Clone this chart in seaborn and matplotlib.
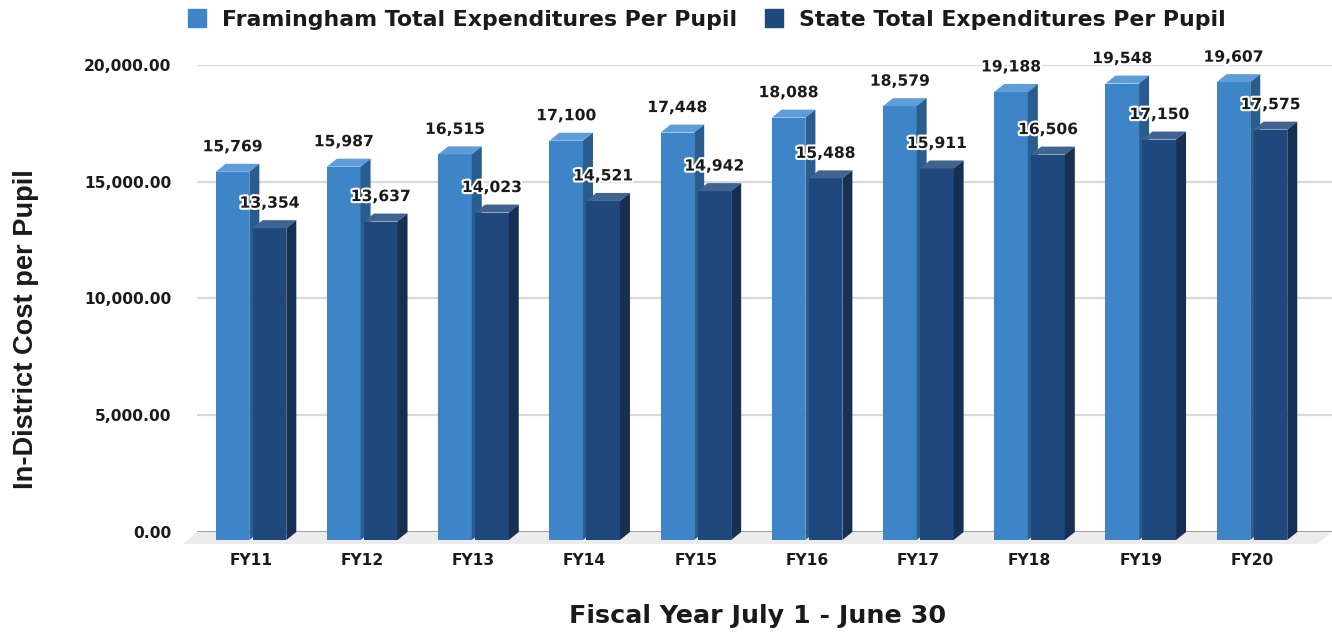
import matplotlib
matplotlib.use("Agg")
import numpy as np
import pandas as pd
import matplotlib.pyplot as plt
import matplotlib.transforms as mtransforms
import matplotlib.patheffects as pe
from matplotlib.patches import Polygon
from matplotlib.lines import Line2D
from matplotlib.ticker import FuncFormatter
import seaborn as sns

# ---- data -------------------------------------------------------------
years = ["FY11", "FY12", "FY13", "FY14", "FY15", "FY16", "FY17", "FY18", "FY19", "FY20"]
framingham = [15769, 15987, 16515, 17100, 17448, 18088, 18579, 19188, 19548, 19607]
state = [13354, 13637, 14023, 14521, 14942, 15488, 15911, 16506, 17150, 17575]
series_names = ["Framingham Total Expenditures Per Pupil",
                "State Total Expenditures Per Pupil"]
y_ticks = [0, 5000, 10000, 15000, 20000]

# ---- styling ----------------------------------------------------------
front_colors = ["#3d85c6", "#1f497d"]
top_colors = ["#5f9dd8", "#40638f"]
side_colors = ["#2a5d8f", "#162f53"]
text_color = "#1a1a1a"
DX, DY = 10, 8          # depth of the 3-D bars, in pixels
W, H = 1332, 632

sns.set_theme(style="white")
plt.rcParams["font.family"] = ["DejaVu Sans"]
plt.rcParams["font.weight"] = "bold"

df = pd.DataFrame({
    "year": years * 2,
    "value": framingham + state,
    "series": [series_names[0]] * len(years) + [series_names[1]] * len(years),
})

fig = plt.figure(figsize=(W / 100, H / 100), dpi=100)
ax = fig.add_axes([197 / W, 100 / H, (W - 197) / W, 467 / H])

sns.barplot(data=df, x="year", y="value", hue="series", order=years,
            hue_order=series_names, palette=front_colors, saturation=1,
            width=0.665, gap=0.09, linewidth=0, edgecolor="none",
            legend=False, ax=ax)

ax.set_xlim(-0.5755, 9.63)
ax.set_ylim(0, 20000)
for s in ax.spines.values():
    s.set_visible(False)

# back wall grid
ax.set_yticks(y_ticks)
ax.yaxis.set_major_formatter(FuncFormatter(lambda v, p: f"{v:,.2f}"))
ax.yaxis.grid(True, color="#d9d9d9", lw=1.6, zorder=0)
ax.set_axisbelow(True)
ax.axhline(0, color="#8c8c8c", lw=1.8, zorder=1)
ax.tick_params(axis="both", length=0, colors=text_color)
ax.tick_params(axis="y", pad=18.5, labelsize=11.2)
ax.tick_params(axis="x", pad=15.0, labelsize=11.2)
ax.set_xlabel("")
ax.set_ylabel("")

# floor of the 3-D scene
x0p, y0p = ax.transAxes.transform((0, 0))
x1p, _ = ax.transAxes.transform((1, 0))
floor = Polygon([(x0p, y0p), (x1p, y0p), (x1p - 15, y0p - 12), (x0p - 14, y0p - 12)],
                closed=True, facecolor="#ececec", edgecolor="none",
                transform=mtransforms.IdentityTransform(), zorder=0.5, clip_on=False)
ax.add_patch(floor)

front_tr = mtransforms.offset_copy(ax.transData, fig, x=-DX, y=-DY, units="dots")
label_tr = mtransforms.offset_copy(ax.transData, fig, x=-DX, y=17, units="dots")
ident = mtransforms.IdentityTransform()

for i, cont in enumerate(ax.containers):
    z = 3 + 2 * i
    for bar in cont:
        x, w, h = bar.get_x(), bar.get_width(), bar.get_height()
        bar.set_transform(front_tr)
        bar.set_clip_on(False)
        bar.set_zorder(z)
        (lx, by), (rx, ty) = ax.transData.transform([(x, 0), (x + w, h)])
        top = Polygon([(lx - DX, ty - DY), (rx - DX, ty - DY), (rx, ty), (lx, ty)],
                      closed=True, facecolor=top_colors[i], edgecolor="none",
                      transform=ident, zorder=z, clip_on=False)
        side = Polygon([(rx - DX, by - DY), (rx - DX, ty - DY), (rx, ty), (rx, by)],
                       closed=True, facecolor=side_colors[i], edgecolor="none",
                       transform=ident, zorder=z, clip_on=False)
        ax.add_patch(top)
        ax.add_patch(side)
        ax.text(x + w / 2, h, f"{h:,.0f}", transform=label_tr, ha="center",
                va="center", fontsize=11.2, fontweight="bold", color=text_color,
                zorder=10, clip_on=False,
                path_effects=[pe.withStroke(linewidth=3, foreground="white")])

# category labels sit under the front faces
ax.set_xticks(range(len(years)))
ax.set_xticklabels(years, fontweight="bold")
shift = mtransforms.ScaledTranslation(-DX / 100, 0, fig.dpi_scale_trans)
for lab in ax.get_xticklabels():
    lab.set_transform(lab.get_transform() + shift)
for lab in ax.get_yticklabels():
    lab.set_fontweight("bold")

fig.text(757.5 / W, 8.7 / H, "Fiscal Year July 1 - June 30", ha="center",
         va="baseline", fontsize=18.3, fontweight="bold", color=text_color)
fig.text(26 / W, 303 / H, "In-District Cost per Pupil", rotation=90,
         ha="center", va="center", fontsize=19.6, fontweight="bold",
         family=["Liberation Sans", "DejaVu Sans"], color=text_color)

handles = [Line2D([], [], marker="s", ls="none", markersize=12.3,
                  markerfacecolor=c, markeredgecolor=c) for c in front_colors]
fig.legend(handles, series_names, loc="center", bbox_to_anchor=(707 / W, 612 / H),
           ncol=2, frameon=False, prop={"size": 15.8, "weight": "bold"},
           handlelength=0.8, handletextpad=0.75, columnspacing=1.25,
           borderaxespad=0, borderpad=0, labelcolor=text_color)

fig.savefig("out.png", dpi=100, facecolor="white")
